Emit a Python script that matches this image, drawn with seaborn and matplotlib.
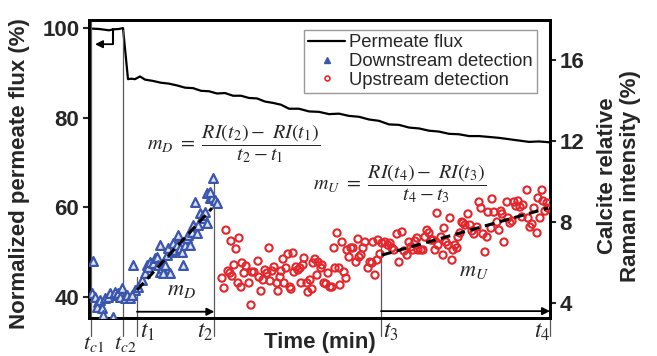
import matplotlib
matplotlib.use('Agg')
import matplotlib.pyplot as plt
import matplotlib.transforms as mtransforms
from matplotlib.lines import Line2D
import seaborn as sns

# ====== DATA

# permeate flux (left axis, %)
flux_time = [0, 5, 10, 12, 15, 17, 19.5, 21, 23, 25.5, 28, 32, 36, 40, 44, 48, 52, 56, 60,
             64, 68, 72, 76, 80, 84, 88, 92, 96, 100, 105, 110, 115, 120, 125, 130, 135, 140,
             145, 150, 155, 160, 165, 170, 175, 180, 185, 190, 195, 200, 205, 210, 215, 220,
             225, 230.5]
flux = [99.9, 99.8, 99.5, 99.7, 99.8, 100.0, 88.6, 88.7, 88.6, 89.2, 88.5, 88.2, 87.8, 87.6,
        87.2, 86.7, 86.6, 86.0, 85.9, 85.4, 85.5, 84.9, 84.9, 84.4, 84.3, 83.6, 83.3, 82.9,
        82.0, 82.0, 81.4, 81.3, 80.8, 80.9, 80.4, 80.2, 79.6, 79.3, 78.5, 78.4, 77.8, 77.6,
        77.1, 76.9, 76.4, 76.3, 75.9, 75.9, 75.7, 75.5, 75.2, 74.9, 74.6, 74.7, 74.5]

# downstream detection (right axis, %)
down_time = [2.2, 1.5, 3.0, 4.5, 4.0, 5.5, 6.5, 7.0, 8.0, 9.5, 10.5, 12.0, 13.0, 14.0, 14.5,
             16.5, 15.5, 18.0, 19.0, 20.5, 22.0, 23.0, 21.5, 24.5, 26.5, 28.0, 29.0, 29.5,
             30.5, 32.0, 33.0, 34.0, 34.5, 35.5, 36.5, 35.5, 37.0, 38.0, 39.0, 39.5, 40.5,
             41.5, 42.0, 43.0, 44.0, 44.5, 45.5, 46.5, 47.0, 48.0, 49.0, 49.5, 50.5, 51.5,
             52.0, 53.0, 54.0, 54.5, 55.5, 56.5, 57.0, 58.0, 59.0, 59.0, 60.5, 61.5, 62.0,
             63.0, 64.0, 60.5]
down_ri = [6.07, 4.49, 4.30, 4.05, 3.80, 4.15, 3.75, 3.41, 4.25, 4.30, 4.49, 3.31, 4.54, 4.40,
           4.49, 4.74, 4.30, 4.25, 4.40, 4.25, 5.88, 4.64, 4.40, 4.79, 5.14, 5.48, 5.88, 5.78,
           6.02, 5.98, 6.22, 6.27, 5.88, 5.53, 5.73, 6.86, 5.48, 5.88, 6.37, 6.72, 5.48, 6.52,
           6.96, 6.62, 6.86, 7.36, 6.72, 6.52, 5.88, 6.86, 7.21, 7.36, 6.86, 7.51, 7.85, 8.99,
           7.46, 7.85, 8.44, 8.20, 8.35, 8.49, 7.95, 9.43, 9.19, 9.23, 10.17, 9.09, 8.94, 9.48]

# upstream detection (right axis, %)
up_time = [68.5, 71.0, 75.0, 73.5, 66.5, 67.5, 69.5, 70.5, 71.5, 72.5, 74.5, 76.0, 76.5, 77.5,
           78.5, 80.0, 81.0, 81.5, 82.5, 84.5, 85.0, 86.0, 87.0, 88.0, 89.0, 90.0, 90.5, 91.5,
           92.5, 94.0, 94.5, 95.5, 96.0, 97.0, 97.5, 98.5, 99.5, 100.5, 101.0, 102.0, 102.5,
           103.5, 104.5, 105.5, 106.0, 107.0, 107.5, 109.0, 109.5, 110.5, 111.5, 112.0, 113.0,
           114.0, 114.5, 116.0, 116.5, 117.5, 118.5, 119.5, 120.5, 121.5, 122.5, 123.0, 124.0,
           125.0, 125.5, 126.5, 127.5, 128.5, 129.0, 130.0, 131.0, 132.0, 133.5, 134.5, 135.0,
           136.0, 137.0, 138.0, 139.5, 140.5, 141.5, 142.0, 143.0, 144.0, 144.5, 145.5, 146.5,
           148.0, 149.5, 150.5, 151.5, 152.5, 154.0, 155.0, 156.5, 157.5, 159.0, 160.0, 161.0,
           162.0, 163.0, 164.0, 164.5, 166.0, 167.0, 168.0, 169.0, 170.0, 171.0, 172.0, 173.0,
           174.0, 174.5, 176.0, 177.0, 177.5, 178.5, 179.5, 180.5, 181.5, 182.0, 183.0, 184.0,
           184.5, 185.5, 186.5, 187.0, 188.0, 189.5, 190.5, 191.5, 192.5, 194.0, 195.0, 196.0,
           197.0, 198.0, 199.0, 199.5, 201.0, 201.5, 202.5, 204.0, 205.0, 206.0, 206.5, 207.5,
           209.0, 209.5, 210.5, 211.5, 212.5, 213.5, 214.5, 215.5, 216.5, 217.0, 219.0, 219.5,
           220.5, 221.5, 222.5, 224.0, 224.5, 225.5, 226.5, 227.0, 228.0, 229.0, 229.5]
up_ri = [7.60, 7.06, 7.21, 6.67, 5.23, 4.74, 5.58, 5.48, 5.33, 5.88, 4.99, 4.79, 5.98, 5.48,
         5.83, 4.99, 3.90, 5.53, 5.53, 6.07, 5.28, 4.59, 5.14, 5.63, 5.48, 6.72, 5.09, 5.58,
         5.78, 4.99, 4.59, 5.28, 5.58, 6.17, 4.99, 5.73, 6.42, 4.79, 4.69, 6.47, 5.53, 5.78,
         5.63, 5.73, 4.99, 5.88, 6.22, 4.99, 4.54, 5.14, 4.69, 5.98, 6.17, 5.38, 6.02, 5.73,
         5.88, 4.99, 4.94, 5.48, 4.79, 4.79, 6.72, 5.73, 7.46, 5.73, 4.89, 7.01, 5.53, 5.23,
         6.62, 6.27, 6.72, 6.72, 6.02, 7.16, 6.27, 6.37, 6.72, 7.01, 5.73, 6.02, 5.98, 7.01,
         5.38, 6.12, 7.11, 6.42, 6.96, 7.01, 6.86, 6.96, 6.72, 6.62, 7.41, 6.02, 7.51, 6.57,
         6.37, 7.01, 6.77, 6.62, 7.06, 7.21, 6.62, 6.62, 6.62, 7.26, 7.60, 7.46, 7.11, 7.11,
         6.62, 8.44, 6.86, 7.26, 6.37, 7.70, 7.01, 6.86, 8.20, 6.12, 6.62, 6.86, 6.72, 7.26,
         7.46, 8.00, 7.95, 7.85, 8.40, 7.85, 7.56, 7.41, 7.75, 8.99, 8.69, 7.41, 6.52, 7.26,
         8.49, 7.70, 9.14, 8.49, 8.00, 7.60, 8.54, 8.40, 7.01, 8.99, 8.20, 7.95, 8.05, 8.99,
         8.79, 9.04, 8.74, 8.25, 8.84, 9.58, 8.20, 7.75, 7.90, 8.69, 7.46, 9.19, 8.20, 9.58,
         9.04, 8.54, 8.94, 8.69]

# slope guide lines
mD_time = [24.0, 61.5]
mD_ri = [4.64, 8.69]
mU_time = [146.5, 229.5]
mU_ri = [6.37, 8.69]

# time marks
t_c1, t_c2, t_1, t_2, t_3, t_4 = 1.0, 16.8, 24.0, 62.7, 146.0, 230.5

# ====== STYLE

sns.set_style('ticks')
plt.rcParams['font.family'] = ['Liberation Sans', 'DejaVu Sans']
plt.rcParams['mathtext.fontset'] = 'stix'

BLUE = '#3a56ad'
RED = '#e3262b'
GREY = '#5a5a5a'

fig = plt.figure(figsize=(6.57, 3.56), dpi=100)
ax = fig.add_axes([89 / 657, 38 / 356, 461 / 657, 298 / 356])
ax2 = ax.twinx()

# ====== PLOT

sns.lineplot(x=flux_time, y=flux, ax=ax, color='black', linewidth=1.6)

sns.scatterplot(x=down_time, y=down_ri, ax=ax2, marker='^', s=40,
                color=BLUE, edgecolor=BLUE, linewidth=1.6, zorder=3)
ax2.collections[-1].set_facecolor('#dfe4f4')
sns.scatterplot(x=up_time, y=up_ri, ax=ax2, marker='o', s=27,
                color=RED, edgecolor=RED, linewidth=1.5, zorder=3)
ax2.collections[-1].set_facecolor('none')

ax2.plot(mD_time, mD_ri, color='black', linewidth=2.2, dashes=(3.2, 1.8), zorder=4)
ax2.plot(mU_time, mU_ri, color='black', linewidth=2.2, dashes=(3.2, 1.8), zorder=4)

ax.set_xlim(0, 230.5)
ax.set_ylim(35.3, 101.8)
ax2.set_ylim(3.26, 17.98)
ax.set_yticks([40, 60, 80, 100])
ax2.set_yticks([4, 8, 12, 16])
ax.set_xticks([])

for a in (ax, ax2):
    for sp in a.spines.values():
        sp.set_linewidth(2)
        sp.set_color('black')
    a.tick_params(axis='y', length=4, width=1.5, labelsize=16, pad=3)
    for lab in a.get_yticklabels():
        lab.set_fontweight('bold')

# vertical time marks
marks = [(t_c1, 2.37, 17.98), (t_c2, 2.37, 17.5), (t_1, 2.37, 5.28),
         (t_2, 2.37, 10.17), (t_3, 2.37, 7.21), (t_4, 2.37, 3.26)]
for tm, lo, hi in marks:
    ax2.plot([tm, tm], [lo, hi], color=GREY, linewidth=0.9, clip_on=False, zorder=2)

arrow = dict(arrowstyle='-|>', color='black', lw=1.3, mutation_scale=11, shrinkA=0, shrinkB=0)
ax2.annotate('', xy=(t_2, 3.57), xytext=(t_1, 3.57), arrowprops=arrow)
ax2.annotate('', xy=(t_4, 3.60), xytext=(t_3, 3.60), arrowprops=arrow)

# left-axis pointer
ax.plot([11.8, 11.8], [99.8, 96.4], color='black', linewidth=1.5)
ax.annotate('', xy=(3.0, 96.4), xytext=(11.8, 96.4), arrowprops=arrow)

# time labels
trans = mtransforms.blended_transform_factory(ax.transData, ax.transAxes)
tlab = dict(transform=trans, fontsize=17, va='center', clip_on=False)
ax.text(t_1 + 1.5, -0.047, r'$t_1$', ha='left', **tlab)
ax.text(t_2 - 0.5, -0.047, r'$t_2$', ha='right', **tlab)
ax.text(t_3 + 1.0, -0.047, r'$t_3$', ha='left', **tlab)
ax.text(t_4, -0.047, r'$t_4$', ha='right', **tlab)
tclab = dict(tlab, fontsize=16)
ax.text(t_c1 + 1.5, -0.086, r'$t_{c1}$', ha='center', **tclab)
ax.text(t_c2 + 1.5, -0.086, r'$t_{c2}$', ha='center', **tclab)

# slope formulas
ax.text(0.126, 0.584, r'$m_D\ =\ \dfrac{RI(t_2)-\ RI(t_1)}{t_2-t_1}$', transform=ax.transAxes,
        fontsize=14.5, ha='left', va='center')
ax.text(0.486, 0.453, r'$m_U\ =\ \dfrac{RI(t_4)-\ RI(t_3)}{t_4-t_3}$', transform=ax.transAxes,
        fontsize=14.5, ha='left', va='center')
ax.text(0.2, 0.097, r'$m_D$', transform=ax.transAxes, fontsize=16, ha='center', va='center')
ax.text(0.835, 0.161, r'$m_U$', transform=ax.transAxes, fontsize=16, ha='center', va='center')

# axis labels
ax.set_xlabel('Time (min)', fontsize=16, fontweight='bold', labelpad=10)
fig.text(20 / 657, 1 - 174 / 356, 'Normalized permeate flux (%)', rotation=90,
         fontsize=16, fontweight='bold', ha='center', va='center')
fig.text(619 / 657, 1 - 176 / 356, 'Calcite relative\nRaman intensity (%)', rotation=90,
         fontsize=16, fontweight='bold', ha='center', va='center', multialignment='center',
         linespacing=1.15)

# legend
handles = [Line2D([], [], color='black', linewidth=1.6),
           Line2D([], [], linestyle='none', marker='^', markersize=4, color=BLUE,
                  markerfacecolor=BLUE),
           Line2D([], [], linestyle='none', marker='o', markersize=3.5, color=RED,
                  markerfacecolor='none', markeredgewidth=1.2)]
leg = ax2.legend(handles, ['Permeate flux', 'Downstream detection', 'Upstream detection'],
                 loc='upper left', bbox_to_anchor=(0.466, 0.968), fontsize=13.3,
                 frameon=True, fancybox=False, handlelength=2.0, handletextpad=0.2,
                 labelspacing=0.1, borderpad=0.25, borderaxespad=0)
leg.get_frame().set_edgecolor('#808080')
leg.get_frame().set_linewidth(1.0)

fig.savefig('out.png', dpi=100)
